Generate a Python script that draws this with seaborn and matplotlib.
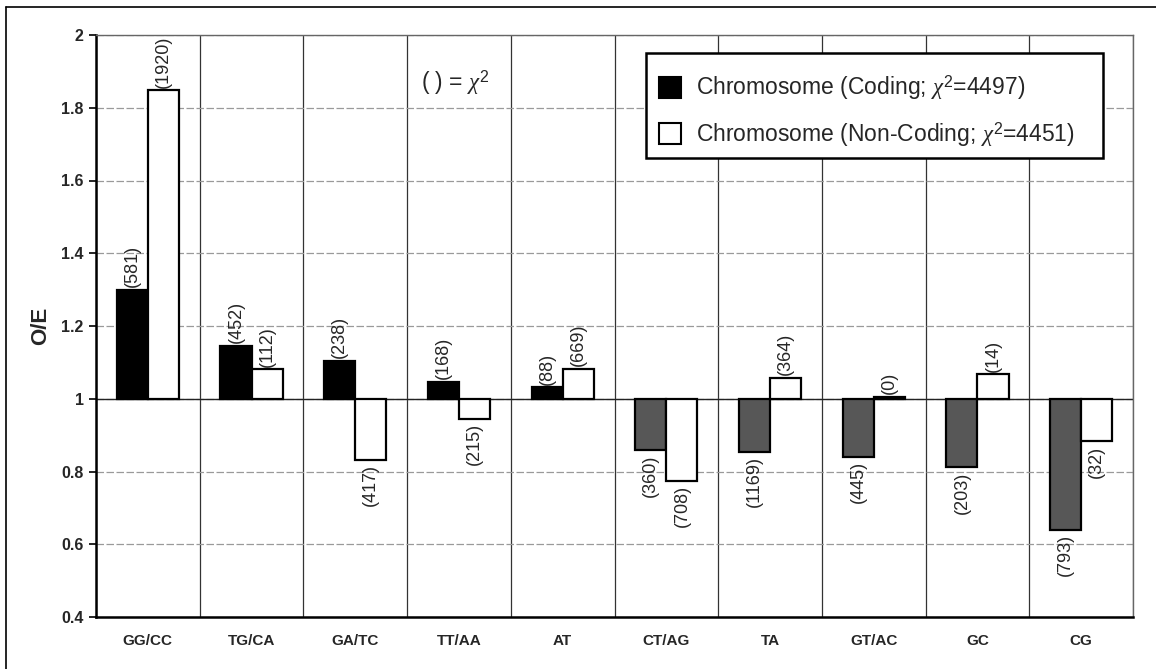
import numpy as np
import pandas as pd
import matplotlib
matplotlib.use("Agg")
import matplotlib.pyplot as plt
import seaborn as sns
from matplotlib.patches import Patch, Rectangle
from matplotlib.lines import Line2D

categories = ["GG/CC", "TG/CA", "GA/TC", "TT/AA", "AT", "CT/AG", "TA", "GT/AC", "GC", "CG"]
coding = [1.30, 1.145, 1.105, 1.047, 1.031, 0.858, 0.853, 0.841, 0.812, 0.639]
noncoding = [1.848, 1.081, 0.831, 0.944, 1.083, 0.775, 1.058, 1.005, 1.067, 0.883]
coding_chi = ["(581)", "(452)", "(238)", "(168)", "(88)", "(360)", "(1169)", "(445)", "(203)", "(793)"]
noncoding_chi = ["(1920)", "(112)", "(417)", "(215)", "(669)", "(708)", "(364)", "(0)", "(14)", "(32)"]
series_names = ["Chromosome (Coding; $\\chi^2$=4497)", "Chromosome (Non-Coding; $\\chi^2$=4451)"]
y_ticks = [0.4, 0.6, 0.8, 1, 1.2, 1.4, 1.6, 1.8, 2]
baseline = 1.0

sns.set_theme(style="white")
plt.rcParams["font.family"] = ["Liberation Sans", "DejaVu Sans"]
plt.rcParams["mathtext.fontset"] = "custom"
plt.rcParams["mathtext.rm"] = "Liberation Sans"
plt.rcParams["mathtext.it"] = "Liberation Serif:italic"

df = pd.DataFrame({
    "cat": categories * 2,
    "value": coding + noncoding,
    "series": [series_names[0]] * len(categories) + [series_names[1]] * len(categories),
})
df["height"] = df["value"] - baseline

fig = plt.figure(figsize=(11.56, 6.69), dpi=100)
ax = fig.add_axes([96 / 1156, 1 - 617 / 669, (1133 - 96) / 1156, (617 - 35) / 669])

sns.barplot(data=df, x="cat", y="height", hue="series", order=categories,
            hue_order=series_names, palette=["black", "white"], width=0.6,
            bottom=baseline, edgecolor="black", linewidth=1.6, legend=False,
            ax=ax, zorder=3)

# recolour coding bars below baseline (grey stipple)
for bar in ax.containers[0]:
    if bar.get_height() < 0:
        bar.set_facecolor("#575757")

# chi-square labels
for cont, labels in zip(ax.containers, [coding_chi, noncoding_chi]):
    for bar, lab in zip(cont, labels):
        xc = bar.get_x() + bar.get_width() / 2
        yend = bar.get_y() + bar.get_height()
        if bar.get_height() >= 0:
            ax.annotate(lab, (xc, yend), xytext=(0, 2), textcoords="offset points",
                        rotation=90, ha="center", va="bottom", fontsize=13, zorder=5)
        else:
            ax.annotate(lab, (xc, yend), xytext=(0, -3), textcoords="offset points",
                        rotation=90, ha="center", va="top", fontsize=13, zorder=5)

ax.set_xlim(-0.5, len(categories) - 0.5)
ax.set_ylim(0.4, 2.0)
ax.set_yticks(y_ticks)
ax.set_yticklabels([f"{t:g}" for t in y_ticks], fontsize=11.5, fontweight="bold")
ax.set_xticks(range(len(categories)))
ax.set_xticklabels(categories, fontsize=11, fontweight="bold")
ax.set_xticks(np.arange(len(categories) + 1) - 0.5, minor=True)
ax.tick_params(axis="x", which="both", length=0, pad=12)
ax.tick_params(axis="y", which="major", length=5, width=1.2, direction="out", left=True, pad=4, color="black")
ax.grid(which="major", axis="y", color="#9a9a9a", linewidth=0.9, linestyle=(0, (6, 2)), zorder=0)
ax.grid(which="minor", axis="x", color="#333333", linewidth=0.9, zorder=0)
ax.axhline(baseline, color="#222222", linewidth=1.0, zorder=2)

ax.set_xlabel("")
ax.set_ylabel("O/E", fontsize=16, fontweight="bold", labelpad=7)

for side in ["left", "bottom"]:
    ax.spines[side].set_color("black")
    ax.spines[side].set_linewidth(1.8)
for side in ["top", "right"]:
    ax.spines[side].set_color("#666666")
    ax.spines[side].set_linewidth(1.0)

# legend box
fig.add_artist(Rectangle((646 / 1156, 1 - 158 / 669), (1103 - 646) / 1156, (158 - 53) / 669,
                         transform=fig.transFigure, facecolor="white", edgecolor="black",
                         linewidth=1.8, zorder=9))
handles = [Patch(facecolor="black", edgecolor="black", linewidth=1.5),
           Patch(facecolor="white", edgecolor="black", linewidth=1.5)]
leg = fig.legend(handles, series_names, loc="center left",
                 bbox_to_anchor=(659 / 1156, 1 - 111 / 669),
                 borderaxespad=0, borderpad=0, fontsize=16.5,
                 frameon=False, handlelength=0.95, handleheight=1.0,
                 handletextpad=0.65, labelspacing=0.76)
leg.set_zorder(10)

fig.text(455 / 1156, 1 - 83 / 669, "( ) = $\\chi^2$", fontsize=16.5, ha="center", va="center")

# outer frame (top and left edges)
fig.add_artist(Line2D([6 / 1156, 1.0], [1 - 7 / 669, 1 - 7 / 669], color="black", linewidth=1.2))
fig.add_artist(Line2D([6 / 1156, 6 / 1156], [1 - 7 / 669, 0.0], color="black", linewidth=1.2))

fig.savefig("out.png", dpi=100)
